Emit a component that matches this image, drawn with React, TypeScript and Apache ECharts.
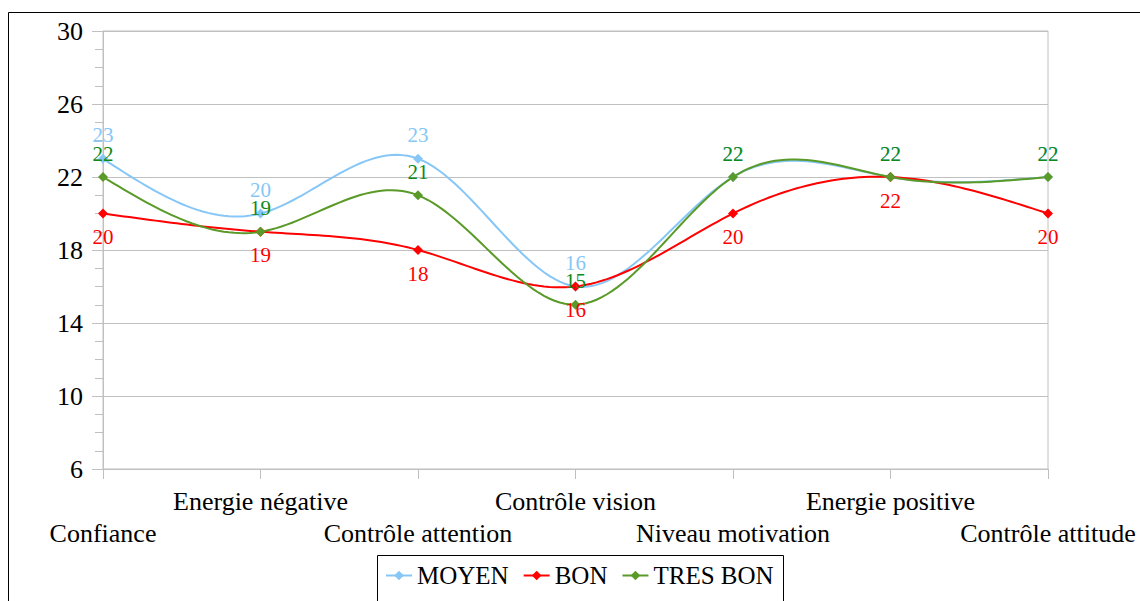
import React, { useEffect, useRef } from "react";
import * as echarts from "echarts";

const categories = [
  "Confiance",
  "Energie négative",
  "Contrôle attention",
  "Contrôle vision",
  "Niveau motivation",
  "Energie positive",
  "Contrôle attitude",
];
const moyen = [23, 20, 23, 16, 22, 22, 22];
const bon = [20, 19, 18, 16, 20, 22, 20];
const tresBon = [22, 19, 21, 15, 22, 22, 22];

const FONT = "'Liberation Serif', 'Times New Roman', serif";

// natural cubic spline second derivatives (uniform spacing)
function splineM(y: number[]): number[] {
  const n = y.length;
  const M = new Array(n).fill(0);
  if (n < 3) return M;
  const m = n - 2;
  const a: number[] = [], b: number[] = [], c: number[] = [], d: number[] = [];
  for (let i = 1; i <= m; i++) {
    a.push(1);
    b.push(4);
    c.push(1);
    d.push(6 * (y[i + 1] - 2 * y[i] + y[i - 1]));
  }
  for (let i = 1; i < m; i++) {
    const w = a[i] / b[i - 1];
    b[i] -= w * c[i - 1];
    d[i] -= w * d[i - 1];
  }
  const x = new Array(m).fill(0);
  x[m - 1] = d[m - 1] / b[m - 1];
  for (let i = m - 2; i >= 0; i--) x[i] = (d[i] - c[i] * x[i + 1]) / b[i];
  for (let i = 0; i < m; i++) M[i + 1] = x[i];
  return M;
}

function splineSeries(name: string, y: number[], color: string) {
  const M = splineM(y);
  return {
    name: name + "-curve",
    type: "custom",
    data: [[0, y[0]]],
    silent: true,
    z: 1,
    renderItem: (_params: any, api: any) => {
      const n = y.length;
      const x0 = api.coord([0, y[0]])[0];
      const x1 = api.coord([n - 1, y[0]])[0];
      const pts: number[][] = [];
      const steps = 30;
      for (let i = 0; i < n - 1; i++) {
        for (let s = 0; s <= steps; s++) {
          if (i > 0 && s === 0) continue;
          const t = s / steps;
          const u = 1 - t;
          const v =
            u * y[i] + t * y[i + 1] + ((u * u * u - u) * M[i]) / 6 + ((t * t * t - t) * M[i + 1]) / 6;
          const px = x0 + ((x1 - x0) * (i + t)) / (n - 1);
          const py = api.coord([0, v])[1];
          pts.push([px, py]);
        }
      }
      return {
        type: "polyline",
        shape: { points: pts },
        style: { stroke: color, fill: "none", lineWidth: 2 },
      };
    },
  };
}

export default function App() {
  const ref = useRef<HTMLDivElement>(null);
  useEffect(() => {
    if (!ref.current) return;
    const chart = echarts.init(ref.current, undefined, { renderer: "svg" });
    const mk = (name: string, data: number[], color: string, labelColor: string, pos: string) => ({
      name,
      type: "line",
      data,
      symbol: "diamond",
      symbolSize: 10,
      z: 3,
      lineStyle: { color, width: 2, opacity: 0 },
      itemStyle: { color },
      label: {
        show: true,
        position: pos,
        distance: 8,
        color: labelColor,
        fontFamily: FONT,
        fontSize: 21,
      },
    });
    chart.setOption({
      animation: false,
      textStyle: { fontFamily: FONT },
      grid: {
        left: 103,
        right: 92,
        top: 31,
        bottom: 132,
        show: true,
        borderColor: "#c0c0c0",
        borderWidth: 1,
      },
      legend: {
        bottom: 8,
        left: 380,
        padding: 5,
        itemWidth: 26,
        itemHeight: 12,
        itemGap: 14,
        textStyle: { fontFamily: FONT, fontSize: 25, color: "#000" },
        data: [
          { name: "MOYEN", lineStyle: { opacity: 1, width: 2, color: "#86c7f7" } },
          { name: "BON", lineStyle: { opacity: 1, width: 2, color: "#ff0000" } },
          { name: "TRES BON", lineStyle: { opacity: 1, width: 2, color: "#5a9a28" } },
        ],
      },
      graphic: [
        {
          type: "rect",
          shape: { x: 8.5, y: 12.5, width: 1200, height: 700 },
          style: { fill: "none", stroke: "#000", lineWidth: 1 },
          silent: true,
        },
        {
          type: "rect",
          shape: { x: 377.5, y: 555.5, width: 406, height: 80 },
          style: { fill: "none", stroke: "#000", lineWidth: 1 },
          silent: true,
        },
      ],
      xAxis: {
        type: "category",
        data: categories,
        boundaryGap: false,
        axisLine: { lineStyle: { color: "#c0c0c0" } },
        axisTick: { show: true, length: 10, interval: 0, lineStyle: { color: "#c0c0c0" } },
        axisLabel: {
          interval: 0,
          color: "#000",
          fontFamily: FONT,
          fontSize: 26,
          lineHeight: 32,
          margin: 16,
          formatter: (v: string, i: number) => (i % 2 === 0 ? "\n" + v : v),
        },
      },
      yAxis: {
        type: "value",
        min: 6,
        max: 30,
        interval: 4,
        axisLine: { show: true, lineStyle: { color: "#c0c0c0" } },
        axisTick: { show: true, length: 11, lineStyle: { color: "#c0c0c0" } },
        minorTick: { show: true, splitNumber: 4, length: 8, lineStyle: { color: "#c0c0c0" } },
        splitLine: { lineStyle: { color: "#c0c0c0" } },
        axisLabel: { color: "#000", fontFamily: FONT, fontSize: 26, margin: 20 },
      },
      series: [
        splineSeries("MOYEN", moyen, "#86c7f7"),
        splineSeries("BON", bon, "#ff0000"),
        splineSeries("TRES BON", tresBon, "#5a9a28"),
        mk("MOYEN", moyen, "#86c7f7", "#86c7f7", "top"),
        mk("BON", bon, "#ff0000", "#ff0000", "bottom"),
        mk("TRES BON", tresBon, "#5a9a28", "#0f8a1a", "top"),
      ],
    });
    return () => chart.dispose();
  }, []);
  return (
    <div
      ref={ref}
      style={{ position: "absolute", left: 0, top: 0, width: 1140, height: 601, background: "#fff" }}
    />
  );
}
